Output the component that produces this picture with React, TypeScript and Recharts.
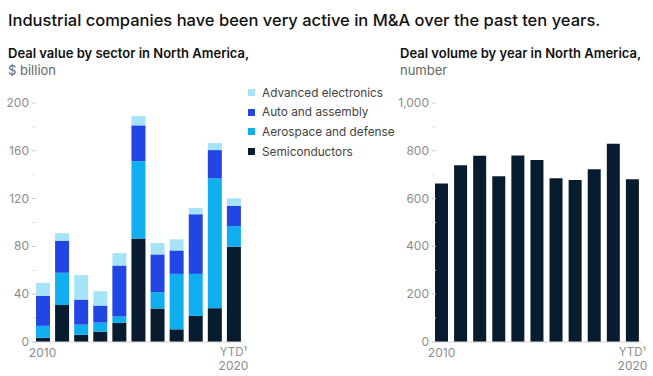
import { Bar, BarChart, XAxis, YAxis } from 'recharts'

const YEARS = ['2010', '2011', '2012', '2013', '2014', '2015', '2016', '2017', '2018', '2019', '2020']

// $ billion, stacked bottom to top
const SEMIS = [3.5, 31, 6, 8.7, 16, 86.7, 28, 10.6, 21.8, 28.3, 79.7]
const AERO = [10, 27, 8.5, 7.5, 5.3, 64.6, 13.7, 46.4, 35.2, 108.7, 17.3]
const AUTO = [25, 26.5, 21, 14.3, 42.7, 30, 31.6, 19.6, 49.9, 23.6, 17]
const ADV = [11, 6.5, 20.5, 12, 10.4, 7.7, 9.5, 9.3, 5.3, 5.8, 6.3]

// number of deals
const VOLUME = [663, 740, 779, 694, 780, 762, 685, 678, 723, 829, 681]

const VALUE_TICKS = [0, 20, 40, 60, 80, 100, 120, 140, 160, 180, 200]
const VOLUME_TICKS = [0, 100, 200, 300, 400, 500, 600, 700, 800, 900, 1000]

const SERIES = [
  { key: 'adv', name: 'Advanced electronics', color: '#a6e3f7' },
  { key: 'auto', name: 'Auto and assembly', color: '#2146e3' },
  { key: 'aero', name: 'Aerospace and defense', color: '#0fafef' },
  { key: 'semis', name: 'Semiconductors', color: '#071c2e' },
]

const valueData = YEARS.map((y, i) => ({ year: y, semis: SEMIS[i], aero: AERO[i], auto: AUTO[i], adv: ADV[i] }))
const volumeData = YEARS.map((y, i) => ({ year: y, volume: VOLUME[i] }))

const FONT = 'Inter, "Liberation Sans", sans-serif'
const GRAY = '#8c8c8c'

function YTick({ x, y, payload, step, fmt }: any) {
  const major = payload.value % step === 0
  return (
    <g>
      {major && (
        <text x={x} y={y} dy={4} textAnchor="end" fill={GRAY} fontSize={12} fontFamily={FONT}>
          {fmt(payload.value)}
        </text>
      )}
      <line x1={x + 3} x2={x + 7} y1={y} y2={y} stroke={major ? '#c8c8c8' : '#e2e2e2'} />
    </g>
  )
}

function XTick({ x, y, index }: any) {
  if (index === 0)
    return (
      <text x={x} y={y + 7} textAnchor="middle" fill={GRAY} fontSize={12} fontFamily={FONT}>
        2010
      </text>
    )
  if (index === YEARS.length - 1)
    return (
      <g>
        <text x={x} y={y + 6} textAnchor="middle" fill={GRAY} fontSize={11.5} fontFamily={FONT}>
          YTD¹
        </text>
        <text x={x} y={y + 20} textAnchor="middle" fill={GRAY} fontSize={12} fontFamily={FONT}>
          2020
        </text>
      </g>
    )
  return null
}

export default function App() {
  return (
    <div style={{ position: 'absolute', left: 0, top: 0, width: 653, height: 376, background: '#fff', fontFamily: FONT }}>
      <div style={{ position: 'absolute', left: 8, top: 10, fontSize: 16.5, fontWeight: 500, color: '#111', whiteSpace: 'nowrap' }}>
        Industrial companies have been very active in M&amp;A over the past ten years.
      </div>
      <div style={{ position: 'absolute', left: 8, top: 45, fontSize: 13, lineHeight: '17px', whiteSpace: 'nowrap' }}>
        <div style={{ fontWeight: 600, color: '#111' }}>Deal value by sector in North America,</div>
        <div style={{ color: '#666' }}>$ billion</div>
      </div>
      <div style={{ position: 'absolute', left: 400, top: 45, fontSize: 13, lineHeight: '17px', whiteSpace: 'nowrap' }}>
        <div style={{ fontWeight: 600, color: '#111' }}>Deal volume by year in North America,</div>
        <div style={{ color: '#666' }}>number</div>
      </div>

      <div style={{ position: 'absolute', left: 0, top: 90 }}>
        <BarChart width={250} height={286} data={valueData} margin={{ top: 13, right: 7, left: 0, bottom: 4 }} barSize={14}>
          <XAxis dataKey="year" interval={0} tickLine={false} axisLine={{ stroke: '#d6d6d6' }} height={30} tick={<XTick />} />
          <YAxis
            width={33}
            domain={[0, 200]}
            ticks={VALUE_TICKS}
            interval={0}
            axisLine={false}
            tickLine={false}
            tickSize={0}
            tickMargin={4}
            tick={<YTick step={40} fmt={(v: number) => String(v)} />}
          />
          {[...SERIES].reverse().map((s) => (
            <Bar key={s.key} dataKey={s.key} name={s.name} stackId="v" fill={s.color} isAnimationActive={false} />
          ))}
        </BarChart>
      </div>

      <div style={{ position: 'absolute', left: 248, top: 83, fontSize: 11.8, color: '#444' }}>
        {SERIES.map((s) => (
          <div key={s.key} style={{ display: 'flex', alignItems: 'center', height: 19.6, whiteSpace: 'nowrap' }}>
            <span style={{ width: 7, height: 7, background: s.color, marginRight: 7, display: 'inline-block' }} />
            {s.name}
          </div>
        ))}
      </div>

      <div style={{ position: 'absolute', left: 390, top: 90 }}>
        <BarChart width={263} height={286} data={volumeData} margin={{ top: 13, right: 11, left: 0, bottom: 4 }} barSize={13}>
          <XAxis dataKey="year" interval={0} tickLine={false} axisLine={{ stroke: '#d6d6d6' }} height={30} tick={<XTick />} />
          <YAxis
            width={42}
            domain={[0, 1000]}
            ticks={VOLUME_TICKS}
            interval={0}
            axisLine={false}
            tickLine={false}
            tickSize={0}
            tickMargin={3}
            tick={<YTick step={200} fmt={(v: number) => v.toLocaleString('en-US')} />}
          />
          <Bar dataKey="volume" fill="#071c2e" isAnimationActive={false} />
        </BarChart>
      </div>
    </div>
  )
}
